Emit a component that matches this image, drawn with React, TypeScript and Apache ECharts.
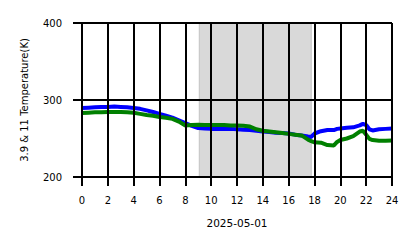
import React, { useEffect, useRef } from "react";
import * as echarts from "echarts";

const hours = [0, 0.5, 1, 1.5, 2, 2.5, 3, 3.5, 4, 4.5, 5, 5.5, 6, 6.5, 7, 7.5, 8, 8.5, 9, 9.5, 10, 10.5, 11, 11.5, 12, 12.5, 13, 13.5, 14, 14.5, 15, 15.5, 16, 16.5, 17, 17.5, 17.75, 18, 18.5, 19, 19.5, 19.75, 20, 20.5, 21, 21.5, 21.75, 22, 22.25, 22.5, 23, 23.5, 24];

const temp39 = [289.5, 290, 290.5, 291, 291, 291.5, 291, 290.5, 289.5, 288.5, 286.5, 284.5, 282, 279.5, 277, 273.5, 270, 266.5, 263.5, 263, 262.5, 262.5, 262.5, 262.5, 262, 261.5, 261, 260, 259, 258.5, 257.5, 257, 256.5, 255, 254, 252.5, 252, 256.5, 259.5, 261, 261, 262.5, 263, 264, 264.5, 267, 269, 267.5, 262, 260.5, 262, 262.5, 263];

const temp11 = [283, 283.5, 284, 284, 284.5, 284.5, 284.5, 284, 283.5, 282, 280.5, 279.5, 278, 277, 275.5, 272, 267, 267.5, 268, 267.5, 267.5, 267.5, 267.5, 267, 267, 266.5, 265.5, 262, 260, 259, 258, 257, 256, 255, 254, 248.5, 246.5, 245, 244.5, 241.5, 241, 245.5, 248, 250, 253, 259, 260, 255, 249.5, 248, 247, 247, 247.5];

const xTicks = { min: 0, max: 24, interval: 2 };
const yTicks = { min: 200, max: 400, interval: 100 };
const shadeRange = [9.08, 17.75];
const xTitle = "2025-05-01";
const yTitle = "3.9 & 11 Temperature(K)";

const FONT = "DejaVu Sans";

export default function App() {
  const ref = useRef<HTMLDivElement>(null);
  useEffect(() => {
    if (!ref.current) return;
    const chart = echarts.init(ref.current, null, { renderer: "svg" });
    const axisCommon = {
      z: 10,
      axisLine: { show: true, lineStyle: { color: "#000", width: 2 } },
      axisTick: { show: true, inside: false, length: 9, lineStyle: { color: "#000", width: 2 } },
      splitLine: { show: true, lineStyle: { color: "#000", width: 2 } },
    };
    chart.setOption({
      animation: false,
      backgroundColor: "#fff",
      grid: { left: 82, right: 26, top: 23, bottom: 71, containLabel: false },
      xAxis: {
        type: "value",
        ...xTicks,
        ...axisCommon,
        name: xTitle,
        nameLocation: "middle",
        nameGap: 40,
        nameTextStyle: { fontFamily: FONT, fontSize: 10.5, color: "#000" },
        axisLabel: { fontFamily: FONT, fontSize: 10, color: "#000", margin: 18 },
      },
      yAxis: {
        type: "value",
        ...yTicks,
        ...axisCommon,
        name: yTitle,
        nameLocation: "middle",
        nameGap: 53,
        nameTextStyle: { fontFamily: FONT, fontSize: 10, color: "#000" },
        axisLabel: { fontFamily: FONT, fontSize: 10, color: "#000", margin: 20 },
      },
      series: [
        {
          type: "line",
          data: [],
          z: 1,
          silent: true,
          markArea: {
            silent: true,
            itemStyle: { color: "#d9d9d9", opacity: 1, borderColor: "#c4c4c4", borderWidth: 1 },
            data: [[{ xAxis: shadeRange[0] }, { xAxis: shadeRange[1] }]],
          },
        },
        {
          type: "line",
          z: 3,
          data: hours.map((h, i) => [h, temp39[i]]),
          showSymbol: false,
          lineStyle: { color: "#0000ff", width: 4 },
          itemStyle: { color: "#0000ff" },
        },
        {
          type: "line",
          z: 4,
          data: hours.map((h, i) => [h, temp11[i]]),
          showSymbol: false,
          lineStyle: { color: "#008000", width: 4 },
          itemStyle: { color: "#008000" },
        },
      ],
    });
    return () => chart.dispose();
  }, []);
  return (
    <div
      ref={ref}
      style={{ position: "fixed", left: 0, top: 0, width: 418, height: 248, background: "#fff" }}
    />
  );
}
